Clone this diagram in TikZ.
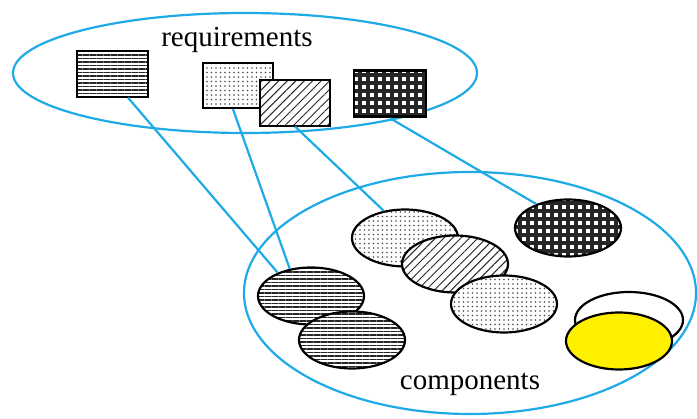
\documentclass[tikz,border=0pt]{standalone}
\usepackage{fontspec}
\setmainfont{Liberation Serif}
\usepackage{tikz}
\usetikzlibrary{positioning}
\usetikzlibrary{shapes.geometric}
\usetikzlibrary{patterns.meta}
\usepackage{xcolor}
\definecolor{setblue}{RGB}{30,170,230}
\definecolor{compyellow}{RGB}{255,240,0}

\begin{document}
\begin{tikzpicture}[x=1pt, y=-1pt,
    setring/.style={draw=setblue, line width=2.2pt, ellipse, inner sep=0pt},
    reqbox/.style={draw, line width=2.4pt, rectangle, inner sep=0pt, minimum width=70pt, minimum height=45pt, preaction={fill=white}},
    compoval/.style={draw, line width=2.2pt, ellipse, inner sep=0pt, minimum width=106pt, minimum height=57pt, preaction={fill=white}},
    link/.style={setblue, line width=2.2pt},
    setlabel/.style={font=\fontsize{29}{32}\selectfont},
    stripes/.style={pattern={Lines[angle=0, distance=3.5pt, line width=1.3pt]}, pattern color=black!85},
    speckle/.style={pattern={Dots[distance=4.5pt, radius=0.8pt]}, pattern color=black!70},
    hatch/.style={pattern={Lines[angle=45, distance=6pt, line width=1pt]}, pattern color=black!85},
    plaid/.style={pattern={Hatch[angle=0, distance=8pt, line width=3.4pt]}, pattern color=black!85}]
    \useasboundingbox (0,0) rectangle (697,419);

    % The two sets
    \node[setring, minimum width=464pt, minimum height=120pt] (reqset) at (245,73) {};
    \node[setring, minimum width=452pt, minimum height=242pt] (compset) at (470,293) {};
    \node[setlabel] (reqlabel) at (237,40) {requirements};
    \node[setlabel] (complabel) at (470,384) {components};

    % Requirements
    \node[reqbox, stripes, minimum width=71pt, minimum height=46pt] (rstripes) at (112.5,74) {};
    \node[reqbox, speckle] (rspeckle) at (238,85.5) {};
    \node[reqbox, hatch, minimum height=46pt] (rhatch) at (295,103) {};
    \node[reqbox, plaid, minimum width=72pt, minimum height=46pt] (rplaid) at (390,93.5) {};

    % Components
    \node[compoval, stripes] (cstripesA) at (311,296) {};
    \node[compoval, stripes] (cstripesB) at (352,340) {};
    \node[compoval, speckle] (cspeckleA) at (405,238) {};
    \node[compoval, hatch] (chatch) at (455,264) {};
    \node[compoval, speckle] (cspeckleB) at (504,304) {};
    \node[compoval, plaid] (cplaid) at (568,228) {};
    \node[compoval, minimum width=108pt, minimum height=56pt] (cblank) at (629,320) {};
    \node[compoval, fill=compyellow] (cyellow) at (619,341) {};

    % Links requirement -> component
    \draw[link] ([xshift=15.5pt]rstripes.south) -- (cstripesA.145);
    \draw[link] ([xshift=-5pt]rspeckle.south) -- (cstripesA.128);
    \draw[link] (rhatch.south) -- (cspeckleA.128);
    \draw[link] (rplaid.south) -- (cplaid.143);
\end{tikzpicture}
\end{document}
